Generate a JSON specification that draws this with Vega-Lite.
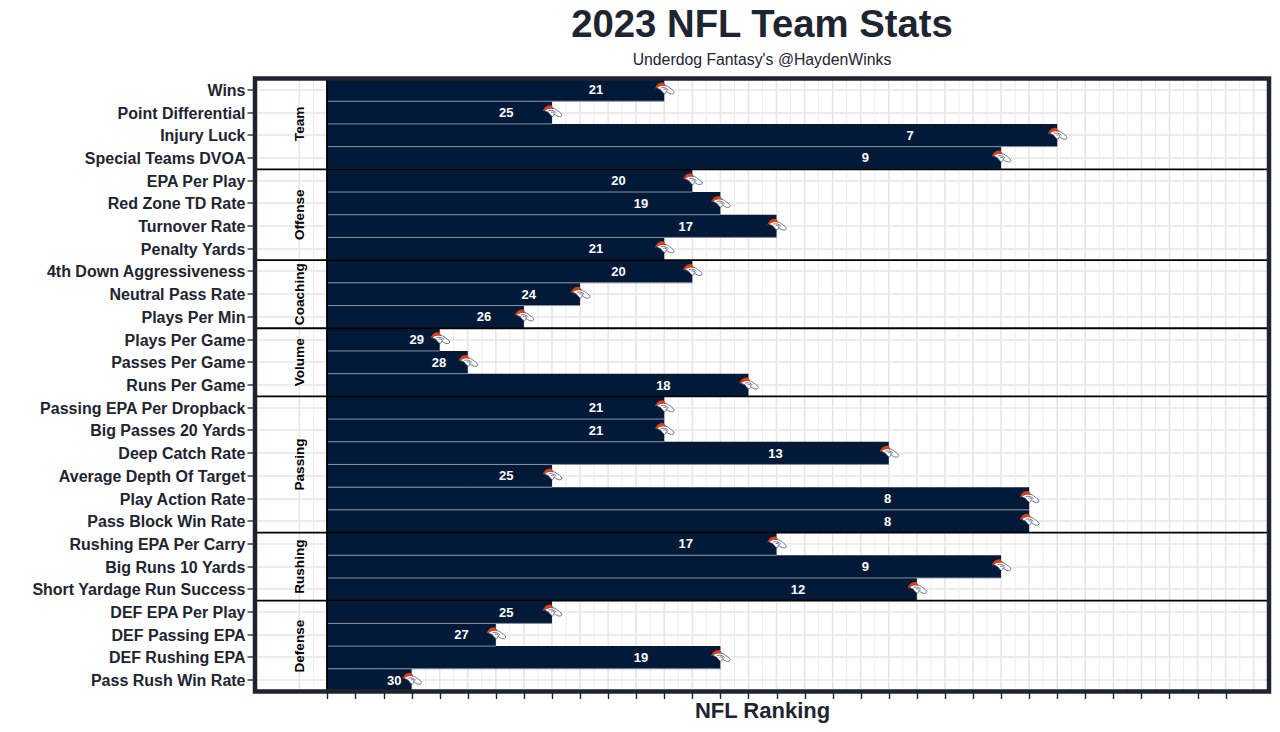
{"$schema":"https://vega.github.io/schema/vega-lite/v6.json","width":1014,"height":613,"autosize":{"type":"none"},"padding":{"left":255,"top":78.5,"right":11,"bottom":40},"background":"white","config":{"view":{"stroke":null},"font":"Liberation Sans"},"title":{"text":"2023 NFL Team Stats","subtitle":"Underdog Fantasy's @HaydenWinks","anchor":"middle","frame":"group","fontSize":38.3,"fontWeight":"bold","color":"#1e2430","font":"Liberation Sans","subtitleFontSize":15.8,"subtitleColor":"#1e2430","subtitleFont":"Liberation Sans","subtitleFontWeight":"normal","subtitlePadding":8,"offset":7},"datasets":{"stats":[{"stat":"Wins","rank":21},{"stat":"Point Differential","rank":25},{"stat":"Injury Luck","rank":7},{"stat":"Special Teams DVOA","rank":9},{"stat":"EPA Per Play","rank":20},{"stat":"Red Zone TD Rate","rank":19},{"stat":"Turnover Rate","rank":17},{"stat":"Penalty Yards","rank":21},{"stat":"4th Down Aggressiveness","rank":20},{"stat":"Neutral Pass Rate","rank":24},{"stat":"Plays Per Min","rank":26},{"stat":"Plays Per Game","rank":29},{"stat":"Passes Per Game","rank":28},{"stat":"Runs Per Game","rank":18},{"stat":"Passing EPA Per Dropback","rank":21},{"stat":"Big Passes 20 Yards","rank":21},{"stat":"Deep Catch Rate","rank":13},{"stat":"Average Depth Of Target","rank":25},{"stat":"Play Action Rate","rank":8},{"stat":"Pass Block Win Rate","rank":8},{"stat":"Rushing EPA Per Carry","rank":17},{"stat":"Big Runs 10 Yards","rank":9},{"stat":"Short Yardage Run Success","rank":12},{"stat":"DEF EPA Per Play","rank":25},{"stat":"DEF Passing EPA","rank":27},{"stat":"DEF Rushing EPA","rank":19},{"stat":"Pass Rush Win Rate","rank":30}],"gridMajor":[{"rank":34},{"rank":33},{"rank":32},{"rank":31},{"rank":30},{"rank":29},{"rank":28},{"rank":27},{"rank":26},{"rank":25},{"rank":24},{"rank":23},{"rank":22},{"rank":21},{"rank":20},{"rank":19},{"rank":18},{"rank":17},{"rank":16},{"rank":15},{"rank":14},{"rank":13},{"rank":12},{"rank":11},{"rank":10},{"rank":9},{"rank":8},{"rank":7},{"rank":6},{"rank":5},{"rank":4},{"rank":3},{"rank":2},{"rank":1},{"rank":0}],"gridMinor":[{"rank":33.5},{"rank":32.5},{"rank":31.5},{"rank":30.5},{"rank":29.5},{"rank":28.5},{"rank":27.5},{"rank":26.5},{"rank":25.5},{"rank":24.5},{"rank":23.5},{"rank":22.5},{"rank":21.5},{"rank":20.5},{"rank":19.5},{"rank":18.5},{"rank":17.5},{"rank":16.5},{"rank":15.5},{"rank":14.5},{"rank":13.5},{"rank":12.5},{"rank":11.5},{"rank":10.5},{"rank":9.5},{"rank":8.5},{"rank":7.5},{"rank":6.5},{"rank":5.5},{"rank":4.5},{"rank":3.5},{"rank":2.5},{"rank":1.5},{"rank":0.5},{"rank":-0.5}]},"resolve":{"scale":{"x":"independent"}},"layer":[{"data":{"name":"gridMinor"},"mark":{"type":"rule","color":"#ececec","strokeWidth":1},"encoding":{"x":{"field":"rank","type":"quantitative","scale":{"domain":[35.58,-0.545]},"axis":null}}},{"data":{"name":"gridMajor"},"mark":{"type":"rule","color":"#e6e6e6","strokeWidth":1.6},"encoding":{"x":{"field":"rank","type":"quantitative","scale":{"domain":[35.58,-0.545]},"axis":null}}},{"data":{"name":"stats"},"resolve":{"scale":{"x":"independent"}},"encoding":{"y":{"field":"stat","type":"nominal","sort":null,"title":null,"scale":{"domain":["Wins","Point Differential","Injury Luck","Special Teams DVOA","EPA Per Play","Red Zone TD Rate","Turnover Rate","Penalty Yards","4th Down Aggressiveness","Neutral Pass Rate","Plays Per Min","Plays Per Game","Passes Per Game","Runs Per Game","Passing EPA Per Dropback","Big Passes 20 Yards","Deep Catch Rate","Average Depth Of Target","Play Action Rate","Pass Block Win Rate","Rushing EPA Per Carry","Big Runs 10 Yards","Short Yardage Run Success","DEF EPA Per Play","DEF Passing EPA","DEF Rushing EPA","Pass Rush Win Rate"],"paddingInner":0,"paddingOuter":0},"axis":{"grid":true,"gridColor":"#e6e6e6","gridWidth":1.6,"domain":false,"tickColor":"#3a3f4a","tickWidth":1.5,"tickSize":8,"labelFontSize":16,"labelFontWeight":"bold","labelColor":"#1e2430","labelFont":"Liberation Sans","labelPadding":2,"labelLimit":400,"labelOffset":1,"zindex":0}}},"layer":[{"mark":{"type":"bar"},"encoding":{"x":{"field":"rank","type":"quantitative","scale":{"domain":[35.58,-0.545]},"axis":{"values":[33,32,31,30,29,28,27,26,25,24,23,22,21,20,19,18,17,16,15,14,13,12,11,10,9,8,7,6,5,4,3,2,1],"labels":false,"grid":false,"domain":false,"ticks":true,"tickColor":"#1e2430","tickWidth":1.4,"tickSize":7,"title":"NFL Ranking","titleFontSize":22,"titleFontWeight":"bold","titleColor":"#1e2430","titleFont":"Liberation Sans","titlePadding":1,"offset":0}},"x2":{"datum":33},"color":{"value":"#021a38"}}},{"mark":{"type":"rule","color":"#8790a0","strokeWidth":1},"encoding":{"x":{"field":"rank","type":"quantitative","scale":{"domain":[35.58,-0.545]},"axis":null},"x2":{"datum":33},"y":{"field":"stat","type":"nominal","bandPosition":1}}},{"mark":{"type":"rule","color":"#000000","strokeWidth":1},"encoding":{"x":{"datum":33,"scale":{"domain":[35.58,-0.545]},"axis":null},"y":{"datum":"Wins","type":"nominal","bandPosition":0},"y2":{"datum":"Pass Rush Win Rate","bandPosition":1}}},{"transform":[{"filter":{"field":"stat","oneOf":["Special Teams DVOA","Penalty Yards","Plays Per Min","Runs Per Game","Pass Block Win Rate","Short Yardage Run Success"]}}],"mark":{"type":"rule","color":"#000000","strokeWidth":1.8},"encoding":{"y":{"field":"stat","type":"nominal","bandPosition":1}}},{"mark":{"type":"text","color":"white","fontWeight":"bold","fontSize":13,"font":"Liberation Sans","dy":0.5},"encoding":{"x":{"field":"rank","type":"quantitative","scale":{"domain":[36.206,-9.0]},"axis":null},"text":{"field":"rank","type":"quantitative"}}},{"mark":{"type":"point","filled":true,"fill":"#ffffff","stroke":"#4a5570","strokeWidth":0.8,"opacity":1,"shape":"M-0.8,-0.22 C-0.4,-0.58 0.1,-0.55 0.45,-0.3 C0.65,-0.12 0.95,0 1.05,0.25 C1.02,0.42 0.85,0.45 0.62,0.4 C0.45,0.34 0.32,0.24 0.2,0.14 C0.18,0.28 0.15,0.38 0.05,0.42 C-0.15,0.3 -0.28,0.12 -0.38,-0.02 C-0.52,-0.08 -0.68,-0.14 -0.8,-0.22 Z","size":361},"encoding":{"x":{"field":"rank","type":"quantitative","scale":{"domain":[35.58,-0.545]},"axis":null}}},{"mark":{"type":"point","filled":false,"stroke":"#4a5570","strokeWidth":0.8,"opacity":1,"shape":"M-0.35,-0.2 C-0.05,-0.3 0.2,-0.2 0.45,0 M-0.1,-0.02 C0.1,-0.1 0.25,-0.02 0.35,0.12","size":361},"encoding":{"x":{"field":"rank","type":"quantitative","scale":{"domain":[35.58,-0.545]},"axis":null}}},{"mark":{"type":"point","filled":true,"fill":"#d9401a","strokeWidth":0,"opacity":1,"shape":"M-0.98,-0.12 C-0.85,-0.5 -0.55,-0.8 -0.2,-0.78 C0,-0.76 0.1,-0.62 0.18,-0.36 C-0.2,-0.52 -0.55,-0.4 -0.98,-0.12 Z","size":361},"encoding":{"x":{"field":"rank","type":"quantitative","scale":{"domain":[35.58,-0.545]},"axis":null}}},{"data":{"values":[{"group":"Team","stat":"Point Differential"},{"group":"Offense","stat":"Red Zone TD Rate"},{"group":"Passing","stat":"Deep Catch Rate"},{"group":"Defense","stat":"DEF Passing EPA"}]},"mark":{"type":"text","angle":270,"fontWeight":"bold","fontSize":13.6,"color":"#000000","font":"Liberation Sans","align":"center","baseline":"middle","dy":1},"encoding":{"x":{"datum":34,"scale":{"domain":[35.58,-0.545]},"axis":null},"y":{"field":"stat","type":"nominal","bandPosition":1},"text":{"field":"group"}}},{"data":{"values":[{"group":"Coaching","stat":"Neutral Pass Rate"},{"group":"Volume","stat":"Passes Per Game"},{"group":"Rushing","stat":"Big Runs 10 Yards"}]},"mark":{"type":"text","angle":270,"fontWeight":"bold","fontSize":13.6,"color":"#000000","font":"Liberation Sans","align":"center","baseline":"middle","dy":1},"encoding":{"x":{"datum":34,"scale":{"domain":[35.58,-0.545]},"axis":null},"y":{"field":"stat","type":"nominal","bandPosition":0.5},"text":{"field":"group"}}}]},{"data":{"values":[{"frame":"panel"}]},"mark":{"type":"rect","filled":false,"stroke":"#1e2430","strokeWidth":4.5},"encoding":{"x":{"datum":35.58,"scale":{"domain":[35.58,-0.545]},"axis":null},"x2":{"datum":-0.545}}}]}
